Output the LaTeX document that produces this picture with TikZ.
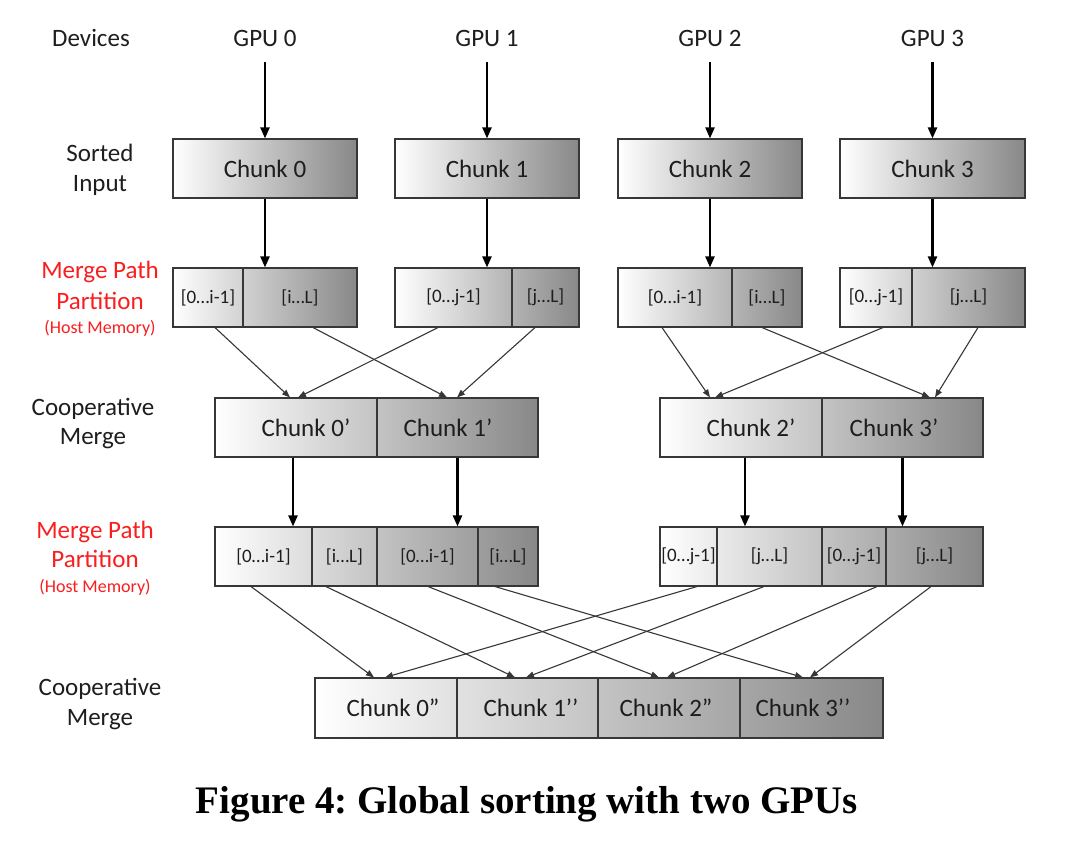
\documentclass[tikz,border=0pt]{standalone}
\usepackage{fontspec}
\setmainfont{Carlito}
\newfontfamily\capfont{Liberation Serif}
\usetikzlibrary{arrows.meta}
\frenchspacing
\definecolor{boxdark}{RGB}{136,136,136}
\definecolor{boxmid}{RGB}{218,218,218}
\definecolor{txt}{RGB}{30,30,30}
\definecolor{redlab}{RGB}{250,30,30}
\definecolor{edge}{RGB}{55,55,55}
\tikzset{
  shadedbox/.style={draw=edge, line width=1.1pt, left color=white, middle color=boxmid, right color=boxdark, shading angle=90, minimum height=59pt, inner sep=0pt},
  cell/.style={draw=edge, line width=1.1pt, minimum height=59pt, inner sep=0pt},
  bigtxt/.style={text=txt, font=\fontsize{25}{30}\selectfont, inner sep=0pt},
  smalltxt/.style={text=txt, font=\fontsize{19}{22}\selectfont, inner sep=0pt},
  lab/.style={text=txt, font=\fontsize{25}{30}\selectfont, inner sep=0pt, anchor=base},
  redl/.style={text=redlab, font=\fontsize{25}{30}\selectfont, inner sep=0pt, anchor=base},
  redsmall/.style={text=redlab, font=\fontsize{18}{22}\selectfont, inner sep=0pt, anchor=base},
  bigarrow/.style={line width=2.2pt, black, -{Triangle[length=11pt,width=9pt]}},
  thinarrow/.style={line width=1.1pt, edge, -{Triangle[length=8pt,width=6pt]}}
}
\begin{document}
\begin{tikzpicture}[x=1pt,y=-1pt]
\useasboundingbox[fill=white] (0,0) rectangle (1080,843);

% header
\node[lab] (dev) at (91,47) {Devices};
\node[lab] (g0) at (265,47) {GPU 0};
\node[lab] (g1) at (487,47) {GPU 1};
\node[lab] (g2) at (710,47) {GPU 2};
\node[lab] (g3) at (932.5,47) {GPU 3};

% left labels
\node[lab] (l1a) at (100,161) {Sorted};
\node[lab] (l1b) at (100,191) {Input};
\node[redl] (l2a) at (100,278) {Merge Path};
\node[redl] (l2b) at (100,309) {Partition};
\node[redsmall] (l2c) at (100,333) {(Host Memory)};
\node[lab] (l3a) at (93,415) {Cooperative};
\node[lab] (l3b) at (93,444) {Merge};
\node[redl] (l4a) at (95,538) {Merge Path};
\node[redl] (l4b) at (95,567) {Partition};
\node[redsmall] (l4c) at (95,592) {(Host Memory)};
\node[lab] (l5a) at (100,695) {Cooperative};
\node[lab] (l5b) at (100,725) {Merge};

% row 1: chunks
\node[shadedbox, minimum width=184pt] (c0) at (265,168.5) {};
\node[shadedbox, minimum width=184pt] (c1) at (487,168.5) {};
\node[shadedbox, minimum width=184pt] (c2) at (710,168.5) {};
\node[shadedbox, minimum width=185pt] (c3) at (932.5,168.5) {};
\node[bigtxt] (c0t) at (c0) {Chunk 0};
\node[bigtxt] (c1t) at (c1) {Chunk 1};
\node[bigtxt] (c2t) at (c2) {Chunk 2};
\node[bigtxt] (c3t) at (c3) {Chunk 3};

% row 2: partitions
\node[shadedbox, minimum width=184pt] (p0) at (265,297.5) {};
\node[shadedbox, minimum width=184pt] (p1) at (487,297.5) {};
\node[shadedbox, minimum width=184pt] (p2) at (710,297.5) {};
\node[shadedbox, minimum width=185pt] (p3) at (932.5,297.5) {};
\node[cell, minimum width=70pt] (p0a) at (208,297.5) {};
\node[cell, minimum width=114pt] (p0b) at (300,297.5) {};
\node[cell, minimum width=117pt] (p1a) at (453.5,297.5) {};
\node[cell, minimum width=67pt] (p1b) at (545.5,297.5) {};
\node[cell, minimum width=114pt] (p2a) at (675,297.5) {};
\node[cell, minimum width=70pt] (p2b) at (767,297.5) {};
\node[cell, minimum width=72pt] (p3a) at (876,297.5) {};
\node[cell, minimum width=113pt] (p3b) at (968.5,297.5) {};
\node[smalltxt] at (p0a) {[0…i-1]};
\node[smalltxt] at (p0b) {[i…L]};
\node[smalltxt] at (p1a) {[0…j-1]};
\node[smalltxt] at (p1b) {[j…L]};
\node[smalltxt] at (p2a) {[0…i-1]};
\node[smalltxt] at (p2b) {[i…L]};
\node[smalltxt] at (p3a) {[0…j-1]};
\node[smalltxt] at (p3b) {[j…L]};

% row 3: cooperative merge
\node[shadedbox, minimum width=323pt] (m0) at (376.5,427.5) {};
\node[shadedbox, minimum width=323pt] (m1) at (821.5,427.5) {};
\node[cell, minimum width=162pt] (m0a) at (296,427.5) {};
\node[cell, minimum width=161pt] (m0b) at (457.5,427.5) {};
\node[cell, minimum width=162pt] (m1a) at (741,427.5) {};
\node[cell, minimum width=161pt] (m1b) at (902.5,427.5) {};
\node[bigtxt] at (306,427.5) {Chunk 0’};
\node[bigtxt] at (448,427.5) {Chunk 1’};
\node[bigtxt] at (751,427.5) {Chunk 2’};
\node[bigtxt] at (894,427.5) {Chunk 3’};

% row 4: partitions
\node[shadedbox, minimum width=323pt] (q0) at (376.5,556.5) {};
\node[shadedbox, minimum width=323pt] (q1) at (821.5,556.5) {};
\node[cell, minimum width=97pt] (q0a) at (263.5,556.5) {};
\node[cell, minimum width=65pt] (q0b) at (344.5,556.5) {};
\node[cell, minimum width=101pt] (q0c) at (427.5,556.5) {};
\node[cell, minimum width=60pt] (q0d) at (508,556.5) {};
\node[cell, minimum width=57pt] (q1a) at (688.5,556.5) {};
\node[cell, minimum width=105pt] (q1b) at (769.5,556.5) {};
\node[cell, minimum width=64pt] (q1c) at (854,556.5) {};
\node[cell, minimum width=97pt] (q1d) at (934.5,556.5) {};
\node[smalltxt] at (q0a) {[0…i-1]};
\node[smalltxt] at (q0b) {[i…L]};
\node[smalltxt] at (q0c) {[0…i-1]};
\node[smalltxt] at (q0d) {[i…L]};
\node[smalltxt] at (q1a) {[0…j-1]};
\node[smalltxt] at (q1b) {[j…L]};
\node[smalltxt] at (q1c) {[0…j-1]};
\node[smalltxt] at (q1d) {[j…L]};

% row 5: final merge
\node[shadedbox, minimum width=568pt, minimum height=60pt] (f) at (599,708) {};
\node[cell, minimum width=142pt, minimum height=60pt] (f0) at (386,708) {};
\node[cell, minimum width=141pt, minimum height=60pt] (f1) at (527.5,708) {};
\node[cell, minimum width=142pt, minimum height=60pt] (f2) at (669,708) {};
\node[cell, minimum width=143pt, minimum height=60pt] (f3) at (811.5,708) {};
\node[bigtxt] at (393,708) {Chunk 0”};
\node[bigtxt] at (531,708) {Chunk 1’’};
\node[bigtxt] at (666,708) {Chunk 2”};
\node[bigtxt] at (803,708) {Chunk 3’’};

% caption
\node[text=black, font=\capfont\bfseries\fontsize{39}{44}\selectfont, inner sep=0pt, anchor=base] (cap) at (527,813) {Figure 4: Global sorting with two GPUs};

% thick arrows
\foreach \g/\c in {g0/c0,g1/c1,g2/c2,g3/c3} {
  \draw[bigarrow, shorten <=15pt] (\g.south) -- (\c.north);
}
\draw[bigarrow] (c0.south) -- (p0.north);
\draw[bigarrow] (c1.south) -- (p1.north);
\draw[bigarrow] (c2.south) -- (p2.north);
\draw[bigarrow] (c3.south) -- (p3.north);
\draw[bigarrow] ([xshift=-3pt]m0a.south) -- ([xshift=-3pt]m0a.south |- q0.north);
\draw[bigarrow] (m0b.south) -- (m0b.south |- q0.north);
\draw[bigarrow] ([xshift=4pt]m1a.south) -- ([xshift=4pt]m1a.south |- q1.north);
\draw[bigarrow] (m1b.south) -- (m1b.south |- q1.north);

% thin crossing arrows, row 2 -> row 3
\draw[thinarrow] ([xshift=7pt]p0a.south) -- ([xshift=-6pt]m0a.north);
\draw[thinarrow] ([xshift=13pt]p0b.south) -- ([xshift=-10.5pt]m0b.north);
\draw[thinarrow] ([xshift=-15.5pt]p1a.south) -- ([xshift=2pt]m0a.north);
\draw[thinarrow] ([xshift=-10.5pt]p1b.south) -- ([xshift=-0.5pt]m0b.north);
\draw[thinarrow] ([xshift=-13pt]p2a.south) -- ([xshift=-31pt]m1a.north);
\draw[thinarrow] ([xshift=-5pt]p2b.south) -- ([xshift=27.5pt]m1b.north);
\draw[thinarrow] ([xshift=7pt]p3a.south) -- ([xshift=-26pt]m1a.north);
\draw[thinarrow] ([xshift=9.5pt]p3b.south) -- ([xshift=32.5pt]m1b.north);

% thin crossing arrows, row 4 -> row 5
\draw[thinarrow] ([xshift=-12.5pt]q0a.south) -- ([xshift=-12pt]f0.north);
\draw[thinarrow] ([xshift=-18.5pt]q0b.south) -- ([xshift=-12.5pt]f1.north);
\draw[thinarrow] ([xshift=0.5pt]q0c.south) -- ([xshift=-10pt]f2.north);
\draw[thinarrow] ([xshift=-13pt]q0d.south) -- ([xshift=-8.5pt]f3.north);
\draw[thinarrow] ([xshift=8.5pt]q1a.south) -- ([xshift=-1pt]f0.north);
\draw[thinarrow] ([xshift=-5.5pt]q1b.south) -- ([xshift=-1.5pt]f1.north);
\draw[thinarrow] ([xshift=23pt]q1c.south) -- ([xshift=-2pt]f2.north);
\draw[thinarrow] ([xshift=-3.5pt]q1d.south) -- ([xshift=-1.5pt]f3.north);
\end{tikzpicture}
\end{document}
